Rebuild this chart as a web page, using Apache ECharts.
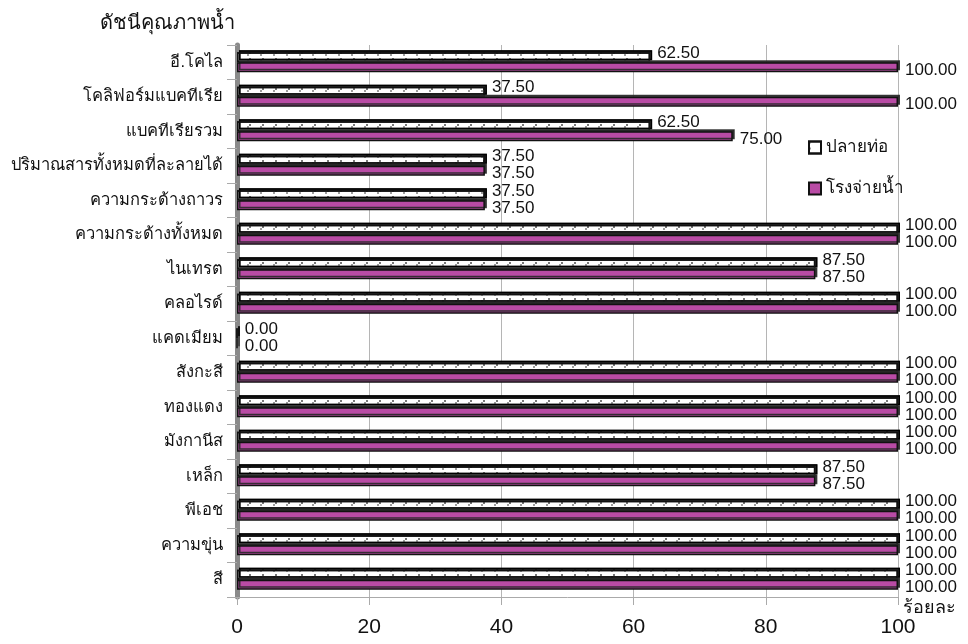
<!DOCTYPE html>
<html>
<head>
<meta charset="utf-8">
<script src="https://cdn.jsdelivr.net/npm/echarts@6/dist/echarts.min.js"></script>
<style>
  html, body { margin: 0; padding: 0; background: #fff; }
  #main { width: 968px; height: 644px; }
</style>
</head>
<body>
<div id="main"></div>
<script>
// categories listed from bottom (สี) to top (อี.โคไล)
var categories = ['สี', 'ความขุ่น', 'พีเอช', 'เหล็ก', 'มังกานีส', 'ทองแดง', 'สังกะสี', 'แคดเมียม',
  'คลอไรด์', 'ไนเทรต', 'ความกระด้างทั้งหมด', 'ความกระด้างถาวร', 'ปริมาณสารทั้งหมดที่ละลายได้',
  'แบคทีเรียรวม', 'โคลิฟอร์มแบคทีเรีย', 'อี.โคไล'];
var pipeEnd = [100, 100, 100, 87.5, 100, 100, 100, 0, 100, 87.5, 100, 37.5, 37.5, 62.5, 37.5, 62.5];
var plant = [100, 100, 100, 87.5, 100, 100, 100, 0, 100, 87.5, 100, 37.5, 37.5, 75, 100, 100];
var xTicks = [0, 20, 40, 60, 80, 100];

var fontFam = 'sans-serif';
var chart = echarts.init(document.getElementById('main'));

// shadow gives the bars a little 3D depth like the original
var depth = {
  borderColor: '#111',
  borderWidth: 1.5,
  shadowColor: 'rgba(40,40,40,0.9)',
  shadowBlur: 0,
  shadowOffsetX: 2,
  shadowOffsetY: -2
};

function labelFmt(p) {
  return p.value.toFixed(2);
}

var option = {
  animation: false,
  backgroundColor: '#fff',
  title: {
    text: 'ดัชนีคุณภาพน้ำ',
    left: 95,
    top: 8,
    textStyle: { fontFamily: fontFam, fontSize: 20, fontWeight: 'normal', color: '#111' }
  },
  legend: {
    data: ['ปลายท่อ', 'โรงจ่ายน้ำ'],
    orient: 'vertical',
    left: 803,
    top: 134,
    itemGap: 24,
    itemWidth: 12,
    itemHeight: 12,
    icon: 'rect',
    textStyle: { fontFamily: fontFam, fontSize: 17, color: '#111' }
  },
  grid: { left: 237, right: 70, top: 45, bottom: 47 },
  xAxis: {
    type: 'value',
    min: xTicks[0],
    max: xTicks[xTicks.length - 1],
    interval: 20,
    name: 'ร้อยละ',
    nameLocation: 'end',
    nameGap: 5,
    nameTextStyle: {
      fontFamily: fontFam, fontSize: 18, color: '#111',
      verticalAlign: 'top', padding: [2, 0, 0, 0]
    },
    axisLine: { show: true, lineStyle: { color: '#aaa', width: 1 } },
    axisTick: { show: true, length: 8, lineStyle: { color: '#aaa' } },
    axisLabel: { fontFamily: fontFam, fontSize: 21, color: '#111', margin: 20 },
    splitLine: { show: true, lineStyle: { color: '#b5b5b5', width: 1 } }
  },
  yAxis: {
    type: 'category',
    data: categories,
    axisLine: { show: true, lineStyle: { color: '#8a8a8a', width: 5 } },
    axisTick: { show: true, length: 10, interval: 0, lineStyle: { color: '#aaa', width: 1 } },
    axisLabel: { fontFamily: fontFam, fontSize: 16.5, color: '#111', margin: 14, interval: 0 }
  },
  series: [
    {
      name: 'ปลายท่อ',
      type: 'bar',
      data: pipeEnd,
      barWidth: 10,
      barGap: '0%',
      itemStyle: Object.assign({
        color: '#fff',
        decal: {
          symbol: 'circle',
          symbolSize: 1,
          color: 'rgba(70,70,70,0.7)',
          dashArrayX: [1.6, 11],
          dashArrayY: [1.6, 3.4],
          rotation: 0
        }
      }, depth),
      label: {
        show: true,
        position: 'right',
        distance: 7,
        offset: [0, -4],
        formatter: labelFmt,
        fontFamily: fontFam,
        fontSize: 17,
        color: '#111'
      }
    },
    {
      name: 'โรงจ่ายน้ำ',
      type: 'bar',
      data: plant,
      barWidth: 10,
      barGap: '0%',
      itemStyle: Object.assign({ color: '#b94ba5' }, depth),
      label: {
        show: true,
        position: 'right',
        distance: 7,
        offset: [0, 3],
        formatter: labelFmt,
        fontFamily: fontFam,
        fontSize: 17,
        color: '#111'
      }
    }
  ]
};

chart.setOption(option);
</script>
</body>
</html>
